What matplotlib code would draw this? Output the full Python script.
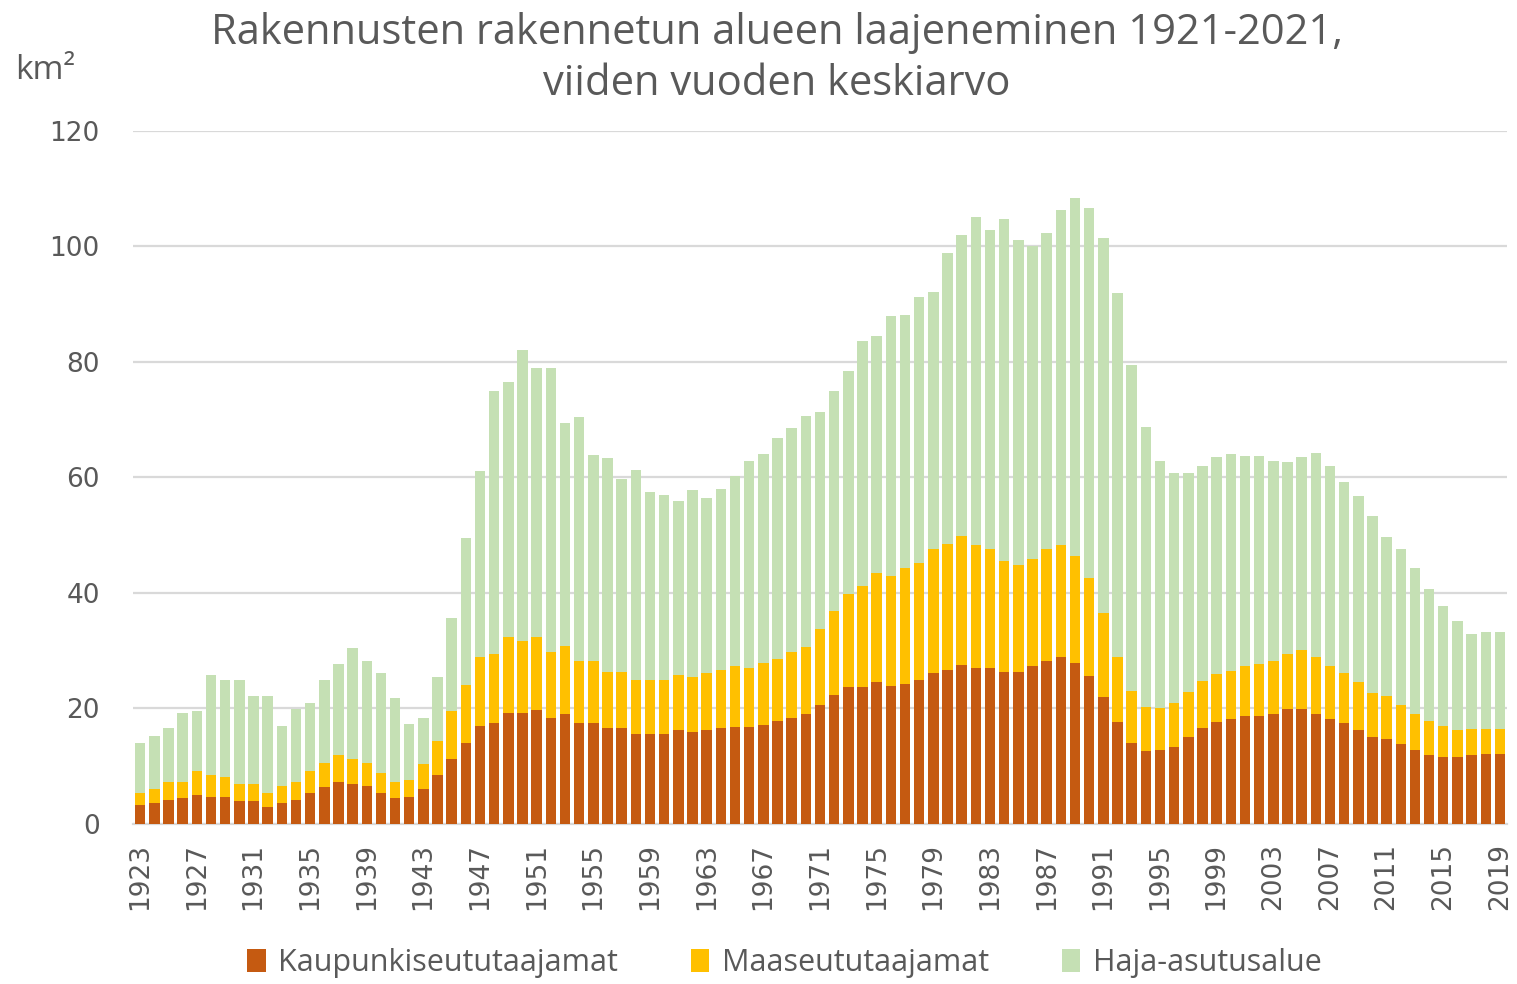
import matplotlib
matplotlib.use("Agg")
import matplotlib.pyplot as plt
import numpy as np

years = list(range(1923, 2020))

kaupunki = [3.3, 3.6, 4.2, 4.5, 5.0, 4.7, 4.7, 3.9, 3.9, 2.9,
            3.6, 4.2, 5.4, 6.4, 7.3, 6.9, 6.6, 5.4, 4.5, 4.7,
            6.0, 8.5, 11.2, 14.1, 16.9, 17.5, 19.3, 19.3, 19.7, 18.4,
            19.0, 17.5, 17.5, 16.6, 16.6, 15.6, 15.6, 15.6, 16.3, 16.0,
            16.2, 16.6, 16.8, 16.8, 17.1, 17.9, 18.4, 19.0, 20.6, 22.4,
            23.7, 23.7, 24.6, 23.9, 24.3, 24.9, 26.1, 26.7, 27.6, 27.0,
            27.0, 26.4, 26.4, 27.4, 28.2, 28.9, 27.9, 25.6, 22.0, 17.6,
            14.1, 12.6, 12.9, 13.4, 15.0, 16.6, 17.6, 18.2, 18.7, 18.7,
            19.0, 19.9, 19.9, 19.0, 18.2, 17.5, 16.2, 15.0, 14.7, 13.8,
            12.8, 11.9, 11.6, 11.6, 11.9, 12.2, 12.2]

maaseutu = [2.1, 2.4, 3.1, 2.8, 4.1, 3.8, 3.5, 3.0, 3.0, 2.5,
            3.0, 3.1, 3.7, 4.2, 4.6, 4.3, 4.0, 3.4, 2.8, 2.9,
            4.4, 5.9, 8.4, 9.9, 12.0, 12.0, 13.1, 12.4, 12.7, 11.4,
            11.8, 10.8, 10.8, 9.8, 9.8, 9.3, 9.3, 9.3, 9.5, 9.4,
            9.9, 10.1, 10.5, 10.2, 10.8, 10.7, 11.4, 11.7, 13.2, 14.5,
            16.2, 17.5, 18.8, 19.1, 20.0, 20.3, 21.5, 21.8, 22.2, 21.3,
            20.6, 19.1, 18.5, 18.5, 19.4, 19.4, 18.5, 17.0, 14.5, 11.4,
            9.0, 7.7, 7.1, 7.5, 7.8, 8.1, 8.3, 8.3, 8.7, 9.0,
            9.3, 9.6, 10.3, 9.9, 9.2, 8.6, 8.4, 7.7, 7.4, 6.8,
            6.2, 5.9, 5.3, 4.6, 4.6, 4.3, 4.3]

haja = [8.7, 9.3, 9.3, 12.0, 10.5, 17.3, 16.7, 18.0, 15.2, 16.7,
        10.3, 12.6, 11.8, 14.3, 15.8, 19.3, 17.7, 17.3, 14.5, 9.8,
        8.0, 11.0, 16.1, 25.6, 32.2, 45.5, 44.1, 50.4, 46.6, 49.2,
        38.6, 42.2, 35.6, 37.0, 33.3, 36.4, 32.6, 32.0, 30.2, 32.4,
        30.3, 31.3, 32.9, 35.9, 36.2, 38.3, 38.7, 39.9, 37.5, 38.0,
        38.5, 42.4, 41.1, 44.9, 43.8, 46.1, 44.5, 50.4, 52.2, 56.8,
        55.3, 59.2, 56.2, 54.2, 54.7, 58.0, 62.0, 64.0, 64.9, 62.9,
        56.4, 48.5, 42.9, 39.9, 38.0, 37.3, 37.7, 37.5, 36.4, 36.1,
        34.6, 33.2, 33.4, 35.3, 34.6, 33.1, 32.2, 30.6, 27.6, 27.1,
        25.3, 22.9, 20.9, 18.9, 16.4, 16.7, 16.7]

series_names = ["Kaupunkiseututaajamat", "Maaseututaajamat", "Haja-asutusalue"]
colors = ["#C55A11", "#FFC000", "#C5E0B4"]
y_ticks = [0, 20, 40, 60, 80, 100, 120]
x_tick_labels = [str(y) for y in years[::4]]

gray = "#595959"
fig = plt.figure(figsize=(15.17, 9.84), dpi=100)
ax = fig.add_axes([0.0877, 0.1626, 0.9057, 0.7043])

x = np.arange(len(years))
k = np.array(kaupunki)
m = np.array(maaseutu)
h = np.array(haja)
w = 0.74
ax.bar(x, k, width=w, color=colors[0], label=series_names[0], zorder=3)
ax.bar(x, m, width=w, bottom=k, color=colors[1], label=series_names[1], zorder=3)
ax.bar(x, h, width=w, bottom=k + m, color=colors[2], label=series_names[2], zorder=3)

ax.set_xlim(-0.5, len(years) - 0.5)
ax.set_ylim(0, 120)
ax.set_yticks(y_ticks)
ax.set_yticklabels([str(v) for v in y_ticks])
ax.set_xticks(x[::4])
ax.set_xticklabels(x_tick_labels, rotation=90)
ax.grid(axis="y", color="#D9D9D9", linewidth=1.6, zorder=0)
ax.set_axisbelow(True)
for s in ["top", "right", "left"]:
    ax.spines[s].set_visible(False)
ax.spines["bottom"].set_color("#D9D9D9")
ax.spines["bottom"].set_linewidth(1.6)
ax.tick_params(axis="y", length=0, pad=24, labelsize=19, labelcolor=gray)
ax.tick_params(axis="x", length=0, pad=14, labelsize=19, labelcolor=gray)
for lab in ax.get_xticklabels() + ax.get_yticklabels():
    lab.set_family("DejaVu Sans")

fig.text(0.512, 0.988, "Rakennusten rakennetun alueen laajeneminen 1921-2021,\nviiden vuoden keskiarvo",
         ha="center", va="top", fontsize=30, color=gray, family="Open Sans", linespacing=1.3)
fig.text(0.01, 0.928, "km²", ha="left", va="center", fontsize=24, color=gray, family="Open Sans")

leg = fig.legend(loc="center", bbox_to_anchor=(0.517, 0.021), ncol=3, frameon=False,
                 handlelength=0.6, handleheight=0.8, handletextpad=0.4, columnspacing=2.4,
                 borderpad=0.1, prop={"family": "Open Sans", "size": 22})
for t in leg.get_texts():
    t.set_color(gray)

fig.savefig("out.png", dpi=100)
